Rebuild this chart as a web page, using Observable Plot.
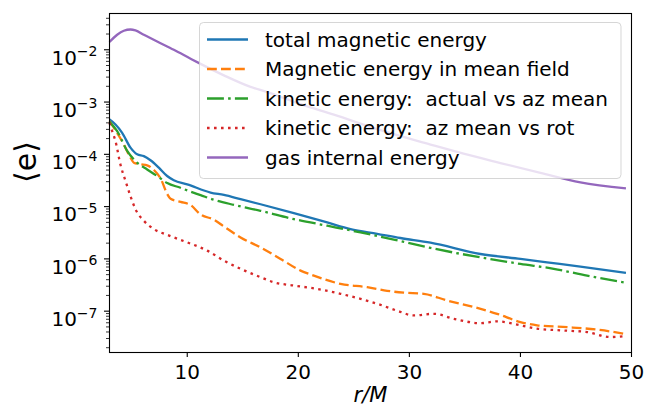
<!DOCTYPE html>
<html><head><meta charset="utf-8">
<script src="https://cdn.jsdelivr.net/npm/d3@7"></script>
<script src="https://cdn.jsdelivr.net/npm/@observablehq/plot@0.6"></script>
<style>body{margin:0;background:#fff} svg{display:block}</style>
</head><body><div id="chart"></div>
<script>
// ---- data ----
const names = ["total magnetic energy", "Magnetic energy in mean field", "kinetic energy:  actual vs az mean", "kinetic energy:  az mean vs rot", "gas internal energy"];
const colors = ["#1f77b4", "#ff7f0e", "#2ca02c", "#d62728", "#9467bd"];

const rTotal = [3.0,3.54,4.14,4.89,5.49,6.09,6.69,7.44,8.19,8.79,10.0,12.1,13.3,14.8,16.6,19.6,22.6,24.7,27.1,29.2,31.9,36.4,40.0,42.4,45.4,49.5];
const eTotal = [4.65e-4,3.73e-4,2.58e-4,1.34e-4,1.0e-4,9.23e-5,7.69e-5,5.56e-5,3.85e-5,3.19e-5,2.66e-5,1.86e-5,1.67e-5,1.39e-5,1.11e-5,7.52e-6,4.98e-6,3.72e-6,3.02e-6,2.51e-6,2.04e-6,1.24e-6,1.0e-6,8.59e-7,7.11e-7,5.40e-7];

const rMean = [3.0,3.39,4.29,4.89,5.19,5.79,6.39,7.0,7.6,8.2,8.5,9.4,10.3,11.2,12.4,13.3,14.8,16.6,18.4,20.2,21.4,23.8,26.2,28.0,29.5,31.3,33.4,35.8,37.9,40.0,41.5,44.2,46.9,49.3];
const eMean = [4.32e-4,3.24e-4,1.55e-4,8.61e-5,6.92e-5,6.46e-5,6.17e-5,5.01e-5,3.47e-5,1.74e-5,1.41e-5,1.23e-5,1.07e-5,7.08e-6,5.62e-6,4.17e-6,2.57e-6,1.66e-6,1.0e-6,5.97e-7,4.79e-7,3.33e-7,2.87e-7,2.45e-7,2.26e-7,2.15e-7,1.60e-7,1.20e-7,8.91e-8,6.17e-8,5.37e-8,4.95e-8,4.43e-8,3.72e-8];

const rAct = [3.0,3.69,4.59,5.49,6.39,7.3,8.2,9.39,10.0,11.2,12.4,14.2,16.6,19.6,22.6,25.6,28.6,31.9,36.4,40.0,43.0,46.0,49.3];
const eAct = [4.18e-4,2.78e-4,1.16e-4,6.92e-5,5.13e-5,3.85e-5,2.82e-5,2.29e-5,2.04e-5,1.66e-5,1.35e-5,1.08e-5,8.32e-6,5.77e-6,4.31e-6,3.21e-6,2.34e-6,1.62e-6,1.07e-6,8.02e-7,6.46e-7,4.79e-7,3.57e-7];

const rRot = [3.0,3.24,3.54,3.99,4.44,4.89,5.34,6.09,6.99,8.2,10.0,11.8,13.3,14.8,16.6,17.8,19.6,21.7,23.8,25.6,27.4,28.9,30.4,32.2,34.0,36.4,37.9,40.0,41.5,43.9,46.0,48.1,49.3];
const eRot = [3.98e-4,2.78e-4,1.78e-4,6.31e-5,3.10e-5,1.58e-5,8.91e-6,5.37e-6,3.72e-6,2.88e-6,2.07e-6,1.44e-6,9.25e-7,6.46e-7,4.47e-7,3.57e-7,3.09e-7,2.67e-7,2.15e-7,1.72e-7,1.32e-7,1.02e-7,8.32e-8,8.91e-8,7.16e-8,5.89e-8,6.37e-8,5.37e-8,4.62e-8,4.27e-8,3.98e-8,3.20e-8,3.31e-8];

const rGas = [3.0,3.69,4.29,4.89,5.34,6.09,7.29,8.79,10.3,11.2,13.3,15.7,17.2,20.2,23.2,27.4,31.9,34.3,38.2,41.8,45.4,49.5];
const eGas = [1.41e-2,1.94e-2,2.31e-2,2.44e-2,2.34e-2,1.94e-2,1.44e-2,1.0e-2,6.76e-3,5.37e-3,3.24e-3,1.95e-3,1.55e-3,9.12e-4,5.75e-4,2.90e-4,1.54e-4,1.11e-4,6.82e-5,4.41e-5,2.90e-5,2.23e-5];

const xTicks = [10, 20, 30, 40, 50];
const yTicks = [1e-7, 1e-6, 1e-5, 1e-4, 1e-3, 1e-2];
const xDomain = [3, 50];
const yDomain = [1.62e-8, 4.94e-2];

// ---- styles ----
const lw = 2.3;
const dashes = [undefined, "9.8,4.2", "16.9,4.2,2.6,4.2", "2.6,4.4", undefined];

const series = [[rTotal, eTotal], [rMean, eMean], [rAct, eAct], [rRot, eRot], [rGas, eGas]];
const rows = series.flatMap(([rs, es], k) => rs.map((r, j) => ({r, e: es[j], k})));

const minor = [];
for (let k = -9; k <= -1; k++) for (let m = 2; m <= 9; m++) {
  const v = +(m * Math.pow(10, k)).toPrecision(3);
  if (v >= yDomain[0] && v <= yDomain[1]) minor.push(v);
}

const chart = Plot.plot({
  width: 655, height: 408,
  marginLeft: 109, marginRight: 24, marginTop: 13, marginBottom: 56,
  style: {fontFamily: "'DejaVu Sans', sans-serif", fontSize: "20px", color: "#000", background: "#fff", overflow: "visible"},
  x: {domain: xDomain, label: null},
  y: {type: "log", domain: yDomain, label: null},
  marks: [
    ...names.map((n, k) => Plot.line(rows.filter(d => d.k === k), {
      x: "r", y: "e", stroke: colors[k], strokeWidth: lw, strokeDasharray: dashes[k],
      strokeLinecap: "butt", strokeLinejoin: "round", curve: "monotone-x"
    })),
    Plot.axisX({ticks: xTicks, tickSize: 5, tickPadding: 7, fontSize: 20, strokeWidth: 1.1, label: null}),
    Plot.axisY({ticks: minor, tickSize: 3, tickFormat: () => "", strokeWidth: 0.8, label: null}),
    Plot.axisY({ticks: yTicks, tickSize: 5, tickPadding: 7, fontSize: 20, strokeWidth: 1.1, label: null,
      tickFormat: d => "10^" + Math.round(Math.log10(d))}),
    Plot.frame({stroke: "#000", strokeWidth: 1.1}),
    Plot.text(["⟨e⟩"], {frameAnchor: "left", dx: -83, rotate: -90, fontSize: 30}),
    Plot.text(["r/M"], {frameAnchor: "bottom", dy: 49, fontSize: 21, fontStyle: "italic"})
  ]
});
document.getElementById("chart").appendChild(chart);

// superscript exponents on the y tick labels
d3.select(chart).selectAll("text").each(function () {
  const t = d3.select(this);
  const m = (this.textContent || "").match(/^10\^(-?\d+)$/);
  if (!m) return;
  const ex = +m[1];
  t.text("10");
  t.attr("dy", "0.42em");
  t.append("tspan").attr("dy", -8.4).attr("font-size", 14)
    .text((ex < 0 ? "\u2212" : "") + Math.abs(ex));
});

// legend (inside the axes, top right, like matplotlib's)
const svg = d3.select(chart);
const lg = svg.append("g").attr("font-family", "'DejaVu Sans', sans-serif").attr("font-size", 20)
  .attr("text-anchor", "start");
lg.append("rect").attr("x", 199.5).attr("y", 22.5).attr("width", 421.5).attr("height", 156).attr("rx", 4)
  .attr("fill", "#fff").attr("fill-opacity", 0.8).attr("stroke", "#ccc").attr("stroke-opacity", 0.8).attr("stroke-width", 1);
names.forEach((n, k) => {
  const y = 39.5 + k * 29.5;
  const ln = lg.append("line").attr("x1", 207).attr("x2", 248).attr("y1", y).attr("y2", y)
    .attr("stroke", colors[k]).attr("stroke-width", lw);
  if (dashes[k]) ln.attr("stroke-dasharray", dashes[k]);
  lg.append("text").attr("x", 265).attr("y", y).attr("dy", "0.36em").attr("text-anchor", "start")
    .style("white-space", "pre").attr("xml:space", "preserve").attr("fill", "#000").text(n);
});
</script>
</body></html>
